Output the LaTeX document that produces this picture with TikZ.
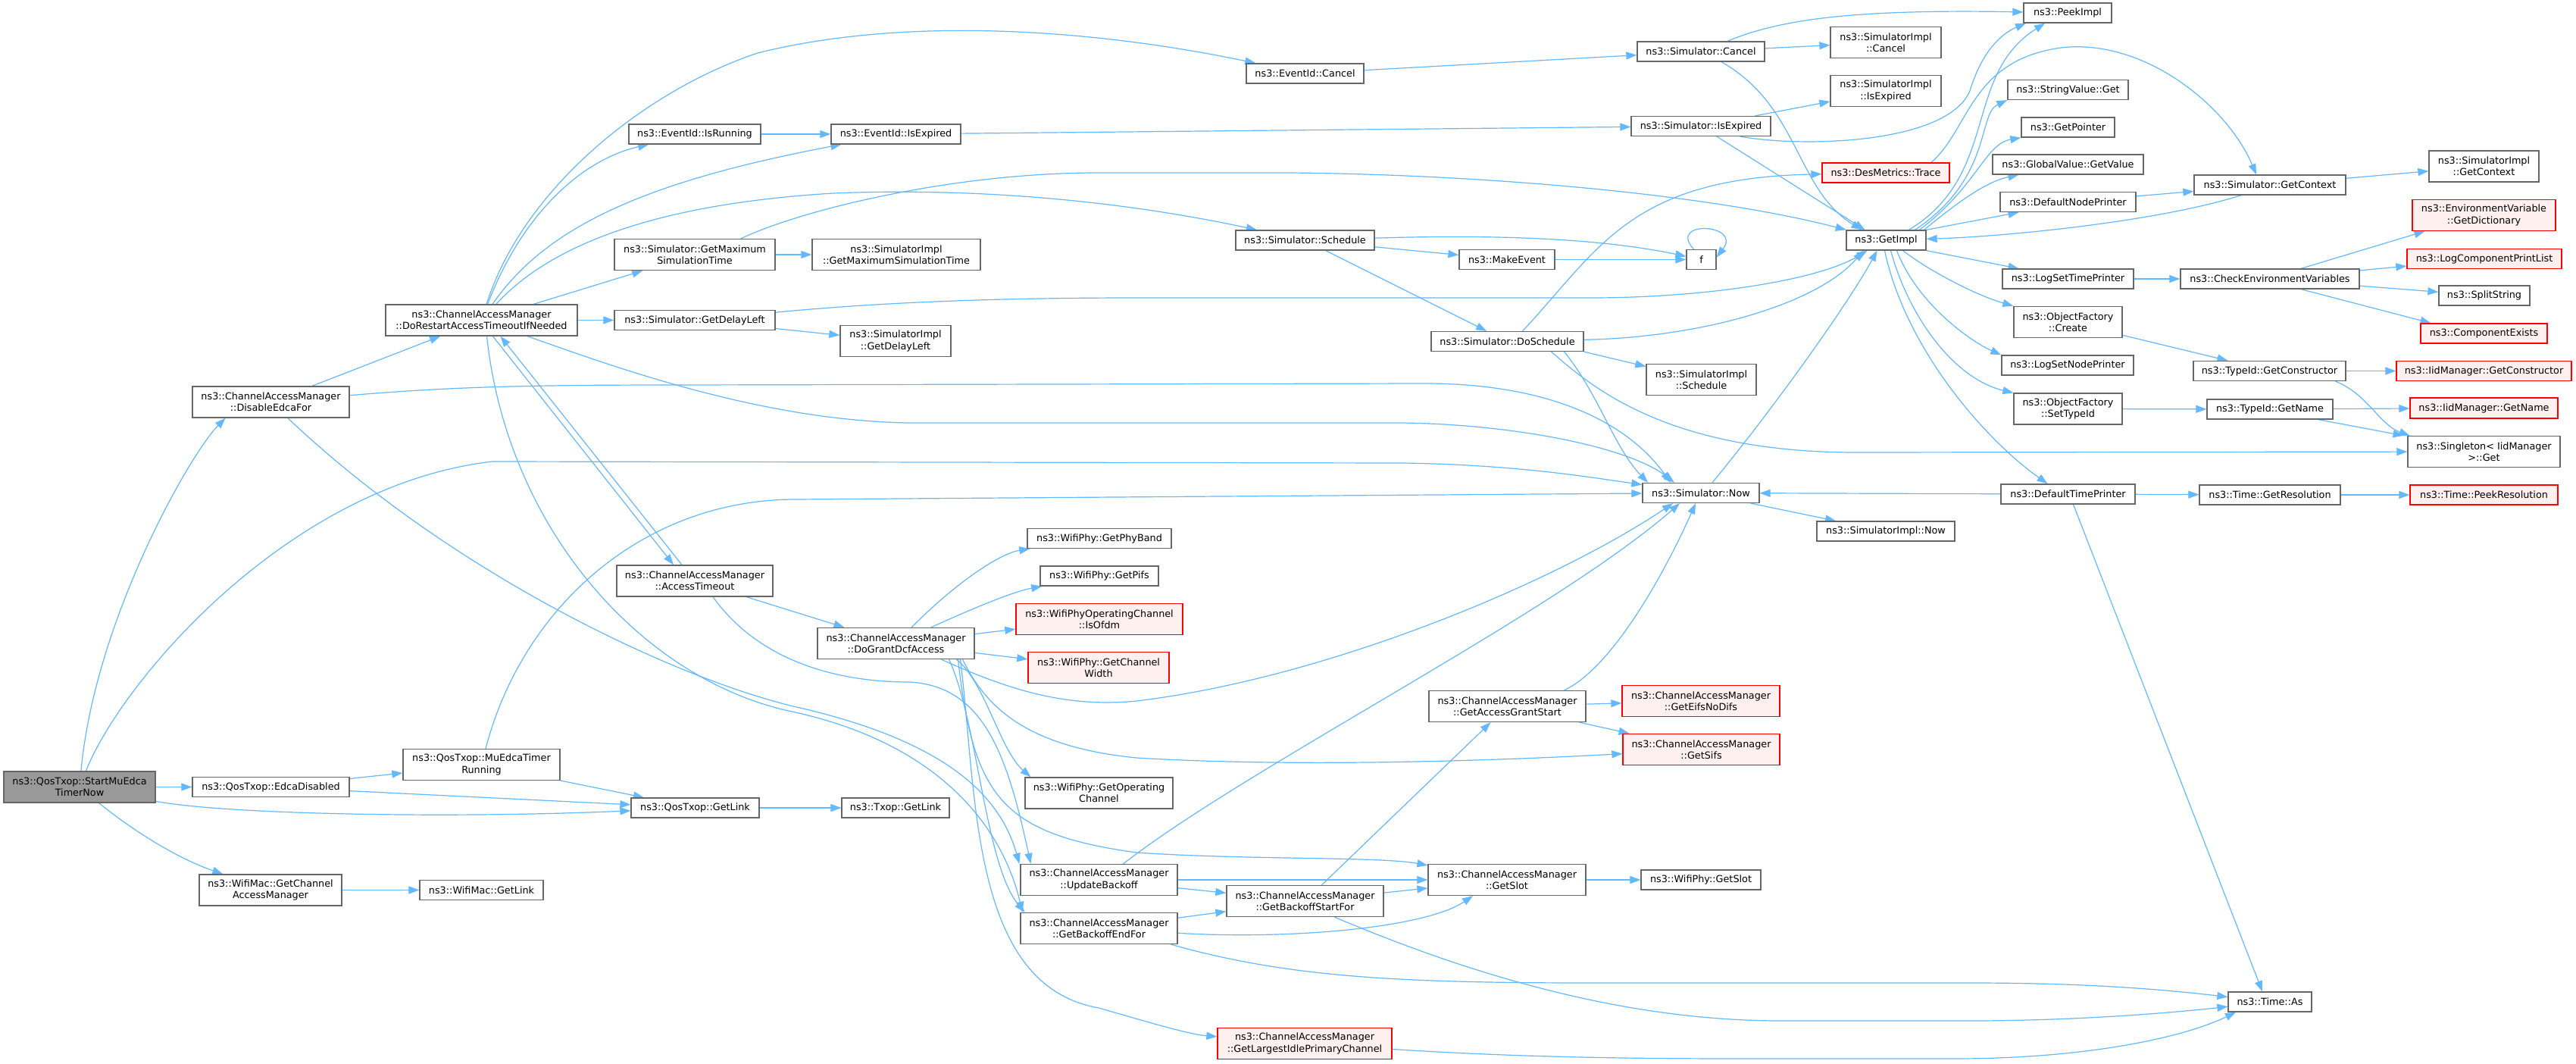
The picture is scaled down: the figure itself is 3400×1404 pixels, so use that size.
\documentclass[tikz,border=0pt]{standalone}
\usepackage{fontspec}
\setmainfont{DejaVu Sans}
\usetikzlibrary{arrows.meta}
\definecolor{edgec}{HTML}{63B8FF}
\definecolor{nodeb}{HTML}{666666}
\definecolor{rootf}{HTML}{999999}
\definecolor{redf}{HTML}{FFF0F0}
\definecolor{redb}{HTML}{FF0000}
\pgfdeclarelayer{bg}
\pgfsetlayers{bg,main}
\tikzset{
  box/.style={draw=nodeb, fill=white, line width=1.3pt, inner sep=0pt, align=center,
    font=\fontsize{12.8pt}{15.3pt}\selectfont},
  rbox/.style={box, draw=redb, fill=redf},
  e/.style={draw=edgec, line width=1.2pt, -{Triangle[length=14pt,width=10pt]}}
}
\begin{document}
\begin{tikzpicture}[x=1pt,y=-1pt]
\useasboundingbox (0,0) rectangle (3400,1404);
% nodes
\node[box,minimum width=200pt,minimum height=41pt,fill=rootf] (start) at (105,1038.5) {ns3::QosTxop::StartMuEdca\\TimerNow};
\node[box,minimum width=207pt,minimum height=41pt] (disable) at (357.5,530.5) {ns3::ChannelAccessManager\\::DisableEdcaFor};
\node[box,minimum width=207pt,minimum height=26pt] (edcadis) at (357.5,1038.5) {ns3::QosTxop::EdcaDisabled};
\node[box,minimum width=188pt,minimum height=41pt] (getcam) at (357,1174.5) {ns3::WifiMac::GetChannel\\AccessManager};
\node[box,minimum width=253pt,minimum height=41pt] (restart) at (635.5,422.5) {ns3::ChannelAccessManager\\::DoRestartAccessTimeoutIfNeeded};
\node[box,minimum width=207pt,minimum height=41pt] (murun) at (635.5,1009) {ns3::QosTxop::MuEdcaTimer\\Running};
\node[box,minimum width=163pt,minimum height=26pt] (wmgetlink) at (635.5,1174.5) {ns3::WifiMac::GetLink};
\node[box,minimum width=174pt,minimum height=26pt] (isrunning) at (917,177) {ns3::EventId::IsRunning};
\node[box,minimum width=171pt,minimum height=26pt] (isexpired) at (1182.5,177) {ns3::EventId::IsExpired};
\node[box,minimum width=212pt,minimum height=41pt] (getmax) at (917,336) {ns3::Simulator::GetMaximum\\SimulationTime};
\node[box,minimum width=222pt,minimum height=41pt] (implgetmax) at (1183,336) {ns3::SimulatorImpl\\::GetMaximumSimulationTime};
\node[box,minimum width=212pt,minimum height=26pt] (getdelay) at (917,422.5) {ns3::Simulator::GetDelayLeft};
\node[box,minimum width=146pt,minimum height=41pt] (implgetdelay) at (1182,450) {ns3::SimulatorImpl\\::GetDelayLeft};
\node[box,minimum width=206pt,minimum height=41pt] (accesstimeout) at (917,766.5) {ns3::ChannelAccessManager\\::AccessTimeout};
\node[box,minimum width=207pt,minimum height=41pt] (dogrant) at (1182.5,849) {ns3::ChannelAccessManager\\::DoGrantDcfAccess};
\node[box,minimum width=169pt,minimum height=26pt] (qgetlink) at (917.5,1066) {ns3::QosTxop::GetLink};
\node[box,minimum width=142pt,minimum height=26pt] (txopgetlink) at (1182,1066) {ns3::Txop::GetLink};
\node[box,minimum width=155pt,minimum height=26pt] (evcancel) at (1722.5,97) {ns3::EventId::Cancel};
\node[box,minimum width=183pt,minimum height=26pt] (schedule) at (1722.5,317) {ns3::Simulator::Schedule};
\node[box,minimum width=190pt,minimum height=26pt] (getphyband) at (1451,710.5) {ns3::WifiPhy::GetPhyBand};
\node[box,minimum width=156pt,minimum height=26pt] (getpifs) at (1451,760) {ns3::WifiPhy::GetPifs};
\node[rbox,minimum width=220pt,minimum height=41pt] (isofdm) at (1451,817) {ns3::WifiPhyOperatingChannel\\::IsOfdm};
\node[rbox,minimum width=186pt,minimum height=41pt] (getchw) at (1450,881) {ns3::WifiPhy::GetChannel\\Width};
\node[box,minimum width=195pt,minimum height=41pt] (getopch) at (1450.5,1046.5) {ns3::WifiPhy::GetOperating\\Channel};
\node[box,minimum width=207pt,minimum height=41pt] (updatebackoff) at (1450.5,1161) {ns3::ChannelAccessManager\\::UpdateBackoff};
\node[box,minimum width=207pt,minimum height=41pt] (backoffend) at (1450.5,1225) {ns3::ChannelAccessManager\\::GetBackoffEndFor};
\node[box,minimum width=207pt,minimum height=41pt] (backoffstart) at (1722.5,1189) {ns3::ChannelAccessManager\\::GetBackoffStartFor};
\node[rbox,minimum width=230pt,minimum height=41pt] (largest) at (1722,1377) {ns3::ChannelAccessManager\\::GetLargestIdlePrimaryChannel};
\node[box,minimum width=126pt,minimum height=26pt] (makeevent) at (1989,342.5) {ns3::MakeEvent};
\node[box,minimum width=39pt,minimum height=26pt] (f) at (2245.5,342.5) {f};
\node[box,minimum width=201pt,minimum height=26pt] (doschedule) at (1989.5,450.5) {ns3::Simulator::DoSchedule};
\node[box,minimum width=168pt,minimum height=26pt] (simcancel) at (2245,68) {ns3::Simulator::Cancel};
\node[box,minimum width=184pt,minimum height=26pt] (simisexpired) at (2245,166.5) {ns3::Simulator::IsExpired};
\node[box,minimum width=145pt,minimum height=41pt] (implschedule) at (2245.5,501) {ns3::SimulatorImpl\\::Schedule};
\node[box,minimum width=154pt,minimum height=26pt] (now) at (2245,650.5) {ns3::Simulator::Now};
\node[box,minimum width=207pt,minimum height=41pt] (grantstart) at (1989.5,932) {ns3::ChannelAccessManager\\::GetAccessGrantStart};
\node[rbox,minimum width=208pt,minimum height=41pt] (eifs) at (2245,925) {ns3::ChannelAccessManager\\::GetEifsNoDifs};
\node[rbox,minimum width=207pt,minimum height=41pt] (sifs) at (2245.5,989) {ns3::ChannelAccessManager\\::GetSifs};
\node[box,minimum width=208pt,minimum height=41pt] (getslot) at (1989,1161) {ns3::ChannelAccessManager\\::GetSlot};
\node[box,minimum width=158pt,minimum height=26pt] (phygetslot) at (2245,1161) {ns3::WifiPhy::GetSlot};
\node[box,minimum width=146pt,minimum height=41pt] (implcancel) at (2489,56) {ns3::SimulatorImpl\\::Cancel};
\node[box,minimum width=146pt,minimum height=41pt] (implisexpired) at (2489,120) {ns3::SimulatorImpl\\::IsExpired};
\node[rbox,minimum width=168pt,minimum height=26pt] (trace) at (2489,228) {ns3::DesMetrics::Trace};
\node[box,minimum width=105pt,minimum height=26pt] (getimpl) at (2489.5,317) {ns3::GetImpl};
\node[box,minimum width=182pt,minimum height=26pt] (implnow) at (2489,701) {ns3::SimulatorImpl::Now};
\node[box,minimum width=116pt,minimum height=26pt] (peekimpl) at (2729,17) {ns3::PeekImpl};
\node[box,minimum width=159pt,minimum height=26pt] (stringget) at (2729.5,118.5) {ns3::StringValue::Get};
\node[box,minimum width=123pt,minimum height=26pt] (getpointer) at (2729.5,168) {ns3::GetPointer};
\node[box,minimum width=199pt,minimum height=26pt] (globalget) at (2729.5,217) {ns3::GlobalValue::GetValue};
\node[box,minimum width=179pt,minimum height=26pt] (defnodeprinter) at (2729.5,266.5) {ns3::DefaultNodePrinter};
\node[box,minimum width=173pt,minimum height=26pt] (logsettime) at (2729.5,368) {ns3::LogSetTimePrinter};
\node[box,minimum width=143pt,minimum height=41pt] (ofcreate) at (2729.5,425) {ns3::ObjectFactory\\::Create};
\node[box,minimum width=174pt,minimum height=26pt] (logsetnode) at (2729,482) {ns3::LogSetNodePrinter};
\node[box,minimum width=143pt,minimum height=41pt] (ofsettype) at (2729.5,539.5) {ns3::ObjectFactory\\::SetTypeId};
\node[box,minimum width=177pt,minimum height=26pt] (deftimeprinter) at (2729.5,652) {ns3::DefaultTimePrinter};
\node[box,minimum width=200pt,minimum height=26pt] (getcontext) at (2996,244) {ns3::Simulator::GetContext};
\node[box,minimum width=236pt,minimum height=26pt] (checkenv) at (2996,368) {ns3::CheckEnvironmentVariables};
\node[box,minimum width=201pt,minimum height=26pt] (getconstructor) at (2995.5,489.5) {ns3::TypeId::GetConstructor};
\node[box,minimum width=166pt,minimum height=26pt] (getname) at (2996,540) {ns3::TypeId::GetName};
\node[box,minimum width=186pt,minimum height=26pt] (getres) at (2996,653) {ns3::Time::GetResolution};
\node[box,minimum width=110pt,minimum height=26pt] (timeas) at (2996,1322) {ns3::Time::As};
\node[box,minimum width=145pt,minimum height=41pt] (implgetcontext) at (3278.5,219.5) {ns3::SimulatorImpl\\::GetContext};
\node[rbox,minimum width=189pt,minimum height=41pt] (envdict) at (3278.5,284) {ns3::EnvironmentVariable\\::GetDictionary};
\node[rbox,minimum width=204pt,minimum height=26pt] (logprintlist) at (3279,341.5) {ns3::LogComponentPrintList};
\node[box,minimum width=120pt,minimum height=26pt] (splitstring) at (3279,390) {ns3::SplitString};
\node[rbox,minimum width=167pt,minimum height=26pt] (compexists) at (3278.5,440) {ns3::ComponentExists};
\node[rbox,minimum width=231pt,minimum height=26pt] (iidgetcons) at (3278.5,489.5) {ns3::IidManager::GetConstructor};
\node[rbox,minimum width=195pt,minimum height=27pt] (iidgetname) at (3278.5,538.5) {ns3::IidManager::GetName};
\node[box,minimum width=201pt,minimum height=41pt] (singleton) at (3278.5,596) {ns3::Singleton< IidManager\\>::Get};
\node[rbox,minimum width=195pt,minimum height=26pt] (peekres) at (3278.5,653) {ns3::Time::PeekResolution};

\begin{pgfonlayer}{bg}
\fill[white] (0,0) rectangle (3400,1404);
% start
\draw[e] (start) .. controls (125,820) and (250,600) .. ([xshift=-60pt]disable.south);
\draw[e] (start) .. controls (160,900) and (380,640) .. (650,609) -- (1850,611) .. controls (2000,613) and (2100,630) .. (now);
\draw[e] (start) -- (edcadis);
\draw[e] (start) .. controls (300,1075) and (600,1080) .. (qgetlink);
\draw[e] (start) .. controls (180,1100) and (240,1135) .. (getcam);
\draw[e] (edcadis) -- (murun);
\draw[e] (edcadis) -- (qgetlink);
\draw[e] (murun) -- (qgetlink);
\draw[e] (murun) .. controls (690,800) and (850,659) .. (1050,659) -- (now);
\draw[e] (qgetlink) -- (txopgetlink);
\draw[e] (getcam) -- (wmgetlink);
% disable
\draw[e] (disable) -- (restart);
\draw[e] (disable) .. controls (600,510) and (700,508) .. (900,508) -- (1880,506) .. controls (2050,506) and (2150,560) .. ([xshift=-40pt]now.north);
\draw[e] (disable) .. controls (600,760) and (900,900) .. (1060,935) .. controls (1250,980) and (1320,1050) .. ([xshift=-105pt]updatebackoff.north);
% restart
\draw[e] (restart) .. controls (690,250) and (850,120) .. (1000,70) .. controls (1200,20) and (1450,40) .. (evcancel);
\draw[e] (restart) .. controls (690,280) and (770,210) .. (isrunning);
\draw[e] (restart) .. controls (720,300) and (850,240) .. (isexpired);
\draw[e] (restart) .. controls (720,330) and (850,270) .. (1100,255) .. controls (1350,245) and (1550,280) .. (schedule);
\draw[e] (restart) -- (getmax);
\draw[e] (restart) -- (getdelay);
\draw[e] (restart) .. controls (800,480) and (1000,555) .. (1200,558) -- (1850,558) .. controls (2000,560) and (2150,590) .. ([xshift=-35pt]now.north);
\draw[e] ([xshift=15pt]restart.south) -- ([xshift=-28pt]accesstimeout.north);
\draw[e] ([xshift=-17pt]accesstimeout.north) -- ([xshift=25pt]restart.south);
\draw[e] ([xshift=7pt]restart.south) .. controls (670,700) and (850,900) .. (1050,940) .. controls (1250,985) and (1325,1100) .. ([xshift=-101pt]backoffend.north);
% accesstimeout
\draw[e] (accesstimeout) -- (dogrant);
\draw[e] ([xshift=24pt]accesstimeout.south) .. controls (1000,870) and (1100,900) .. (1200,900) .. controls (1300,905) and (1330,1000) .. ([xshift=-90pt]updatebackoff.north);
% dogrant
\draw[e] (dogrant) .. controls (1260,770) and (1320,730) .. (getphyband);
\draw[e] (dogrant) .. controls (1290,800) and (1340,780) .. (getpifs);
\draw[e] (dogrant) -- (isofdm);
\draw[e] (dogrant) -- (getchw);
\draw[e] ([xshift=80pt]dogrant.south) .. controls (1300,900) and (1320,990) .. ([xshift=-90pt]getopch.north);
\draw[e] ([xshift=70pt]dogrant.south) .. controls (1290,950) and (1300,1140) .. ([xshift=-98pt]backoffend.north);
\draw[e] ([xshift=85pt]dogrant.south) .. controls (1290,1050) and (1280,1300) .. (1450,1330) .. controls (1520,1350) and (1570,1365) .. (largest);
\draw[e] ([xshift=88pt]dogrant.south) .. controls (1300,930) and (1350,985) .. (1500,1000) .. controls (1700,1012) and (1950,1005) .. (sifs);
\draw[e] ([xshift=82pt]dogrant.south) .. controls (1285,1050) and (1320,1100) .. (1500,1125) .. controls (1650,1135) and (1820,1130) .. (getslot);
\draw[e] ([xshift=60pt]dogrant.south) .. controls (1320,905) and (1400,935) .. (1500,925) .. controls (1750,895) and (2050,770) .. ([xshift=-37pt]now.south);
% simulator calls
\draw[e] (getmax) -- (implgetmax);
\draw[e] ([xshift=61pt]getmax.north) .. controls (1050,280) and (1250,228) .. (1450,228) -- (1700,228) .. controls (1950,230) and (2250,255) .. (getimpl);
\draw[e] (getdelay) -- (implgetdelay);
\draw[e] (getdelay) .. controls (1150,400) and (1300,393) .. (1500,393) -- (2100,393) .. controls (2250,393) and (2400,370) .. ([xshift=-25pt]getimpl.south);
\draw[e] (isrunning) -- (isexpired);
\draw[e] (isexpired) -- (simisexpired);
\draw[e] (evcancel) -- (simcancel);
% schedule
\draw[e] (schedule) -- (makeevent);
\draw[e] (schedule) .. controls (1950,310) and (2100,312) .. (f);
\draw[e] (makeevent) -- (f);
\draw[e] ([xshift=-10pt]f.north) .. controls (2200,290) and (2300,295) .. ([yshift=3pt]f.east);
\draw[e] (schedule) -- (doschedule);
% doschedule
\draw[e] ([xshift=20pt]doschedule.north) .. controls (2110,330) and (2150,235) .. (trace);
\draw[e] (doschedule) .. controls (2250,445) and (2400,400) .. ([xshift=-30pt]getimpl.south);
\draw[e] (doschedule.south east) -- (implschedule);
\draw[e] ([xshift=75pt]doschedule.south) .. controls (2110,520) and (2130,590) .. ([xshift=-70pt]now.north);
\draw[e] ([xshift=58pt]doschedule.south) .. controls (2100,510) and (2200,597) .. (2450,597) -- (singleton);
% simulator cancel / isexpired
\draw[e] (simcancel) -- (implcancel);
\draw[e] ([xshift=35pt]simcancel.north) .. controls (2350,25) and (2450,12) .. (peekimpl);
\draw[e] ([xshift=27pt]simcancel.south) .. controls (2375,140) and (2370,250) .. ([xshift=-32pt]getimpl.north);
\draw[e] (simisexpired) -- (implisexpired);
\draw[e] ([xshift=52pt]simisexpired.south) .. controls (2380,195) and (2570,190) .. (2600,120) .. controls (2615,70) and (2640,45) .. ([xshift=-55pt]peekimpl.south);
\draw[e] ([xshift=21pt]simisexpired.south) -- ([xshift=-28pt]getimpl.north);
% trace
\draw[e] ([xshift=60pt]trace.north) .. controls (2600,170) and (2600,80) .. (2720,63) .. controls (2830,50) and (2940,140) .. ([xshift=-18pt]getcontext.north);
% getimpl
\draw[e] ([xshift=30pt]getimpl.north) .. controls (2640,230) and (2590,100) .. ([xshift=-30pt]peekimpl.south);
\draw[e] ([xshift=38pt]getimpl.north) .. controls (2630,235) and (2610,150) .. (stringget.south west);
\draw[e] ([xshift=44pt]getimpl.north) .. controls (2610,245) and (2620,190) .. (getpointer.south west);
\draw[e] ([xshift=50pt]getimpl.north) .. controls (2580,270) and (2620,240) .. ([xshift=-65pt]globalget.south);
\draw[e] (getimpl.north east) -- ([xshift=-65pt]defnodeprinter.south);
\draw[e] (getimpl.south east) -- ([xshift=-65pt]logsettime.north);
\draw[e] ([xshift=22pt]getimpl.south) .. controls (2550,360) and (2610,390) .. (ofcreate.north west);
\draw[e] ([xshift=14pt]getimpl.south) .. controls (2530,400) and (2600,450) .. (logsetnode.north west);
\draw[e] ([xshift=6pt]getimpl.south) .. controls (2520,420) and (2580,500) .. (ofsettype.north west);
\draw[e] ([xshift=-2pt]getimpl.south) .. controls (2515,460) and (2620,580) .. ([xshift=-27pt]deftimeprinter.north);
% getcontext
\draw[e] (getcontext) -- (implgetcontext);
\draw[e] ([xshift=-38pt]getcontext.south) .. controls (2850,292) and (2650,312) .. (getimpl);
\draw[e] (defnodeprinter) -- (getcontext);
% log / env
\draw[e] (logsettime) -- (checkenv);
\draw[e] ([xshift=41pt]checkenv.north) -- ([xshift=-78pt]envdict.south);
\draw[e] (checkenv) -- (logprintlist);
\draw[e] (checkenv) -- (splitstring);
\draw[e] ([xshift=41pt]checkenv.south) -- ([xshift=-70pt]compexists.north);
% object factory / typeid
\draw[e] (ofcreate) -- ([xshift=-55pt]getconstructor.north);
\draw[e] (getconstructor) -- (iidgetcons);
\draw[e] ([xshift=87pt]getconstructor.south) .. controls (3125,520) and (3140,560) .. ([xshift=-98pt]singleton.north);
\draw[e] (ofsettype) -- (getname);
\draw[e] (getname) -- (iidgetname);
\draw[e] ([xshift=64pt]getname.south) -- ([xshift=-106pt]singleton.north);
% time printer
\draw[e] (deftimeprinter) -- (getres);
\draw[e] (getres) -- (peekres);
\draw[e] (deftimeprinter) -- (now);
\draw[e] ([xshift=7pt]deftimeprinter.south) -- ([xshift=-10pt]timeas.north);
\draw[e] (now) -- (implnow);
\draw[e] ([xshift=15pt]now.north) .. controls (2340,540) and (2440,400) .. ([xshift=-12pt]getimpl.south);
% backoff area
\draw[e] ([xshift=32pt]updatebackoff.north) .. controls (1650,1010) and (2050,810) .. ([xshift=-28pt]now.south);
\draw[e] (updatebackoff) -- (backoffstart);
\draw[e] (updatebackoff) -- (getslot);
\draw[e] (backoffend) -- (backoffstart);
\draw[e] (backoffend) .. controls (1700,1240) and (1880,1225) .. ([xshift=-45pt]getslot.south);
\draw[e] ([xshift=95pt]backoffend.south) .. controls (1700,1290) and (1850,1297) .. (2100,1297) -- (2600,1297) .. controls (2750,1297) and (2850,1305) .. (timeas);
\draw[e] (backoffstart) -- (grantstart);
\draw[e] (backoffstart) -- (getslot);
\draw[e] ([xshift=39pt]backoffstart.south) .. controls (1950,1290) and (2150,1347) .. (2350,1347) -- (2600,1347) .. controls (2750,1347) and (2880,1335) .. (timeas);
\draw[e] (largest) .. controls (2000,1395) and (2150,1397) .. (2300,1397) -- (2580,1397) .. controls (2750,1397) and (2880,1370) .. ([xshift=-45pt]timeas.south);
\draw[e] ([xshift=75pt]grantstart.north) .. controls (2130,880) and (2200,750) .. ([xshift=-7pt]now.south);
\draw[e] (grantstart) -- (eifs);
\draw[e] (grantstart) -- (sifs);
\draw[e] (getslot) -- (phygetslot);
\end{pgfonlayer}
\end{tikzpicture}
\end{document}
